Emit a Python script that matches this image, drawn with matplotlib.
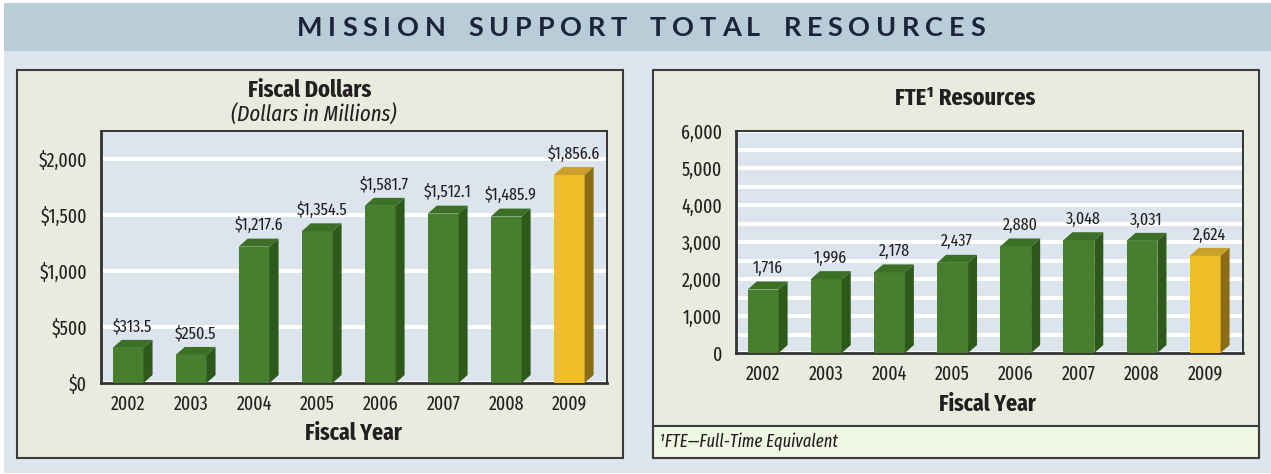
import numpy as np
import matplotlib
matplotlib.use("Agg")
from matplotlib import pyplot as plt
from matplotlib.patches import Rectangle, Polygon
from matplotlib import font_manager
from matplotlib.font_manager import FontProperties

years = ["2002", "2003", "2004", "2005", "2006", "2007", "2008", "2009"]
dollars = [313.5, 250.5, 1217.6, 1354.5, 1581.7, 1512.1, 1485.9, 1856.6]
fte = [1716, 1996, 2178, 2437, 2880, 3048, 3031, 2624]
dollar_ticks = [0, 500, 1000, 1500, 2000]
dollar_ticklabels = ["$0", "$500", "$1,000", "$1,500", "$2,000"]
fte_ticks = [0, 1000, 2000, 3000, 4000, 5000, 6000]
fte_ticklabels = ["0", "1,000", "2,000", "3,000", "4,000", "5,000", "6,000"]

W, H = 1271, 474
TXT = "#231f20"
GREEN = ("#477f2e", "#3c7026", "#2d5a1b")   # front, top, side
GOLD = ("#f0bc28", "#c9a02a", "#8b6c18")


def _weight(f):
    w = f.weight
    if isinstance(w, str):
        w = font_manager.weight_dict.get(w, 400)
    return w


def _stretch_rank(f):
    key = (f.stretch if isinstance(f.stretch, str) else "") + f.fname
    if "ExtraCondensed" in key or f.stretch == "extra-condensed":
        return 0
    if "SemiCondensed" in key or f.stretch == "semi-condensed":
        return 3
    if "UltraCondensed" in key or f.stretch == "ultra-condensed":
        return 4
    return 1


def narrow_font(bold=False, italic=False, size=12):
    """Pick the narrowest sensible condensed face, else plain DejaVu Sans."""
    best, best_score = None, None
    for f in font_manager.fontManager.ttflist:
        narrow = ("Narrow" in f.name or "Condensed" in f.name
                  or "Condensed" in f.fname
                  or f.stretch in ("condensed", "semi-condensed",
                                   "extra-condensed"))
        if not narrow or "Mono" in f.name:
            continue
        score = _stretch_rank(f)
        score += abs(_weight(f) - (700 if bold else 400)) / 100
        is_it = f.style in ("italic", "oblique")
        score += 0 if is_it == italic else 10
        if best_score is None or score < best_score:
            best, best_score = f, score
    if best is None:
        return FontProperties(family="DejaVu Sans",
                              weight="bold" if bold else "normal",
                              style="italic" if italic else "normal", size=size)
    return FontProperties(fname=best.fname, size=size)


fig = plt.figure(figsize=(W / 100, H / 100), dpi=100)
fig.patch.set_facecolor("white")


def fx(x):
    return x / W


def fy(y):
    return 1 - y / H


def box(x0, y0, x1, y1, **kw):
    r = Rectangle((fx(x0), fy(y1)), fx(x1 - x0), (y1 - y0) / H,
                  transform=fig.transFigure, zorder=-5, **kw)
    fig.patches.append(r)
    return r


# page background and header band
box(4, 3, W, 473, facecolor="#dde6ef", edgecolor="none")
box(4, 3, W, 51, facecolor="#b9cdd8", edgecolor="none")

# panels
box(17, 70, 623, 458, facecolor="#e7ecdf", edgecolor="#3b3b3b", lw=1.5)
box(653, 70, 1259, 458, facecolor="#e7ecdf", edgecolor="#3b3b3b", lw=1.5)
box(653, 426, 1259, 458, facecolor="#eff6e3", edgecolor="#3b3b3b", lw=1.5)

# spaced header title
title = "MISSION SUPPORT TOTAL RESOURCES"
renderer = fig.canvas.get_renderer()
widths = []
for ch in title:
    t = fig.text(0, 0, ch if ch != " " else "M", fontsize=19.5, family="Lato",
                 weight="bold")
    w = t.get_window_extent(renderer).width
    widths.append(w * 0.45 if ch == " " else w)
    t.remove()
target = 985 - 297
track = (target - sum(widths)) / (len(title) - 1)
x = 297
for ch, w in zip(title, widths):
    if ch != " ":
        fig.text(fx(x), fy(28), ch, fontsize=19.5, family="Lato", weight="bold",
                 color="#1b2537", va="center", ha="left")
    x += w + track

f_tick = narrow_font(size=14)
f_val = narrow_font(size=12.5)
f_head = narrow_font(bold=True, size=17.5)
f_axis = narrow_font(bold=True, size=17)
f_sub = narrow_font(italic=True, size=16.3)
f_note = narrow_font(italic=True, size=13)


def draw_3d_bars(ax, values, colors, fmt, label_gap):
    ax.figure.canvas.draw()
    bbox = ax.get_window_extent()
    x0, x1 = ax.get_xlim()
    y0, y1 = ax.get_ylim()
    dx = 9 * (x1 - x0) / bbox.width
    dy = 8 * (y1 - y0) / bbox.height
    gap = label_gap * (y1 - y0) / bbox.height
    bw = 0.49
    for i, v in enumerate(values):
        front, top, side = colors[i]
        l, r = i - bw / 2, i + bw / 2
        ax.add_patch(Rectangle((l, 0), bw, v, facecolor=front,
                               edgecolor="none", zorder=3))
        ax.add_patch(Polygon([(l, v), (r, v), (r + dx, v + dy), (l + dx, v + dy)],
                             facecolor=top, edgecolor="none", zorder=3))
        ax.add_patch(Polygon([(r, 0), (r, v), (r + dx, v + dy), (r + dx, dy)],
                             facecolor=side, edgecolor="none", zorder=3))
        ax.text(i + dx / 2, v + dy + gap, fmt(v), ha="center", va="bottom",
                fontproperties=f_val, color=TXT, zorder=4)


def style_axes(ax, ticks, ticklabels):
    ax.set_facecolor("#dce4ee")
    ax.set_xlim(-0.43, 7.6)
    ax.set_xticks(range(len(years)))
    ax.set_xticklabels(years, fontproperties=f_tick, color=TXT)
    ax.set_yticks(ticks)
    ax.set_yticklabels(ticklabels, fontproperties=f_tick, color=TXT)
    ax.tick_params(length=0, pad=8)
    ax.tick_params(axis="y", pad=10)
    for s in ax.spines.values():
        s.set_color("#333333")
        s.set_linewidth(1.4)
    ax.spines["left"].set_linewidth(2)
    ax.spines["bottom"].set_linewidth(2)
    ax.set_axisbelow(True)


bar_colors = [GREEN] * 7 + [GOLD]

# Fiscal dollars
ax1 = fig.add_axes([fx(101), fy(383), fx(607 - 101), (383 - 131) / H])
ax1.set_ylim(0, 2250)
style_axes(ax1, dollar_ticks, dollar_ticklabels)
ax1.grid(axis="y", color="white", lw=2.8)
draw_3d_bars(ax1, dollars, bar_colors, lambda v: f"${v:,.1f}", 5)
fig.text(fx(310), fy(90), "Fiscal Dollars", ha="center", va="center",
         fontproperties=f_head, color=TXT)
fig.text(fx(314), fy(115), "(Dollars in Millions)", ha="center", va="center",
         fontproperties=f_sub, color=TXT)
fig.text(fx(353), fy(433), "Fiscal Year", ha="center", va="center",
         fontproperties=f_axis, color=TXT)

# FTE resources
ax2 = fig.add_axes([fx(736), fy(353), fx(1243 - 736), (353 - 131) / H])
ax2.set_ylim(0, 6000)
style_axes(ax2, fte_ticks, fte_ticklabels)
ax2.set_yticks(np.arange(500, 6000, 1000), minor=True)
ax2.tick_params(which="minor", length=0)
ax2.grid(axis="y", which="both", color="white", lw=2.8)
draw_3d_bars(ax2, fte, bar_colors, lambda v: f"{v:,.0f}", 5)
fig.text(fx(965), fy(98), "FTE\u00b9 Resources", ha="center",
         va="center", fontproperties=f_head, color=TXT)
fig.text(fx(987), fy(404), "Fiscal Year", ha="center", va="center",
         fontproperties=f_axis, color=TXT)
fig.text(fx(659), fy(442), "\u00b9FTE\u2014Full-Time Equivalent",
         ha="left", va="center", fontproperties=f_note, color=TXT)

fig.savefig("out.png", dpi=100, facecolor=fig.get_facecolor())
